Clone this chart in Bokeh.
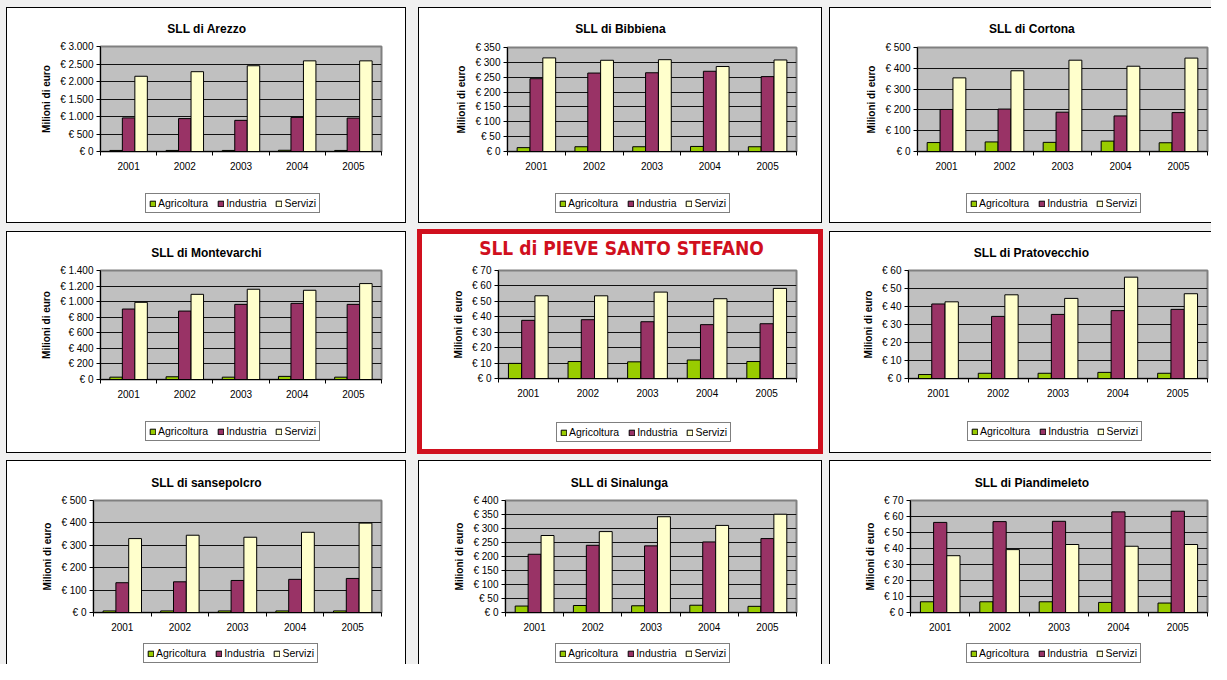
from bokeh.plotting import figure
from bokeh.models import (ColumnDataSource, Range1d, FixedTicker,
                          Legend, LegendItem, Label, Plot)
from bokeh.layouts import row, column
from bokeh.transform import dodge
from bokeh.embed import file_html
from bokeh.resources import INLINE

# ---------------- data ----------------
years = ["2001", "2002", "2003", "2004", "2005"]
sectors = ["Agricoltura", "Industria", "Servizi"]
sector_colors = ["#99cc00", "#993366", "#ffffcc"]
y_axis_title = "Milioni di euro"

titles = ["SLL di Arezzo", "SLL di Bibbiena", "SLL di Cortona",
          "SLL di Montevarchi", "SLL di PIEVE SANTO STEFANO", "SLL di Pratovecchio",
          "SLL di sansepolcro", "SLL di Sinalunga", "SLL di Piandimeleto"]

arezzo_agricoltura = [30, 30, 30, 35, 30]
arezzo_industria = [960, 940, 890, 975, 955]
arezzo_servizi = [2150, 2280, 2450, 2590, 2590]
arezzo_axis = (3000, 500)

bibbiena_agricoltura = [13, 16, 16, 17, 16]
bibbiena_industria = [245, 264, 265, 270, 252]
bibbiena_servizi = [315, 307, 309, 286, 308]
bibbiena_axis = (350, 50)

cortona_agricoltura = [43, 46, 44, 50, 42]
cortona_industria = [202, 204, 189, 171, 187]
cortona_servizi = [354, 388, 439, 410, 449]
cortona_axis = (500, 100)

montevarchi_agricoltura = [30, 35, 30, 40, 30]
montevarchi_industria = [905, 879, 965, 978, 965]
montevarchi_servizi = [991, 1094, 1159, 1146, 1232]
montevarchi_axis = (1400, 200)

pieve_agricoltura = [9.8, 11.0, 10.8, 12.0, 11.0]
pieve_industria = [37.7, 38.1, 36.8, 34.9, 35.5]
pieve_servizi = [53.6, 53.6, 56.0, 51.7, 58.4]
pieve_axis = (70, 10)

pratovecchio_agricoltura = [2.2, 2.9, 2.9, 3.4, 2.9]
pratovecchio_industria = [41.4, 34.5, 35.6, 37.7, 38.4]
pratovecchio_servizi = [42.6, 46.5, 44.5, 56.3, 47.1]
pratovecchio_axis = (60, 10)

sansepolcro_agricoltura = [7, 7, 7, 7, 7]
sansepolcro_industria = [133, 137, 143, 148, 152]
sansepolcro_servizi = [330, 345, 336, 358, 399]
sansepolcro_axis = (500, 100)

sinalunga_agricoltura = [23, 25, 24, 26, 22]
sinalunga_industria = [208, 240, 238, 252, 264]
sinalunga_servizi = [275, 289, 342, 311, 351]
sinalunga_axis = (400, 50)

piandimeleto_agricoltura = [6.7, 6.7, 6.7, 6.3, 5.9]
piandimeleto_industria = [56.3, 56.8, 57.0, 62.9, 63.3]
piandimeleto_servizi = [35.5, 39.3, 42.5, 41.4, 42.5]
piandimeleto_axis = (70, 10)

panel_data = [
    (arezzo_agricoltura, arezzo_industria, arezzo_servizi, arezzo_axis),
    (bibbiena_agricoltura, bibbiena_industria, bibbiena_servizi, bibbiena_axis),
    (cortona_agricoltura, cortona_industria, cortona_servizi, cortona_axis),
    (montevarchi_agricoltura, montevarchi_industria, montevarchi_servizi, montevarchi_axis),
    (pieve_agricoltura, pieve_industria, pieve_servizi, pieve_axis),
    (pratovecchio_agricoltura, pratovecchio_industria, pratovecchio_servizi, pratovecchio_axis),
    (sansepolcro_agricoltura, sansepolcro_industria, sansepolcro_servizi, sansepolcro_axis),
    (sinalunga_agricoltura, sinalunga_industria, sinalunga_servizi, sinalunga_axis),
    (piandimeleto_agricoltura, piandimeleto_industria, piandimeleto_servizi, piandimeleto_axis),
]

# ---------------- layout geometry (layout pixels) ----------------
# box = (x0, y0, w, h); frame = (left, right, top, bottom);
# tc = title centre (x, y); leg = legend (left, bottom)
GEOM = [
    dict(box=(6, 7, 400, 216), frame=(100, 381, 46, 151), tc=(206.5, 28), leg=(145, 213)),
    dict(box=(418, 7, 404, 216), frame=(507, 796, 47, 151), tc=(620, 28), leg=(555, 213)),
    dict(box=(829, 7, 382, 216), frame=(917, 1207, 47, 151), tc=(1031.5, 28), leg=(966, 213)),
    dict(box=(6, 231, 400, 222), frame=(100, 381, 270, 379), tc=(206, 252), leg=(145, 441)),
    dict(box=(417, 229, 406, 225), frame=(498, 796, 270, 378), tc=(621, 247), leg=(556, 442)),
    dict(box=(829, 231, 382, 222), frame=(908, 1207, 270, 378), tc=(1031, 252), leg=(967, 441)),
    dict(box=(6, 460, 400, 204), frame=(93, 381, 500, 612), tc=(206, 482), leg=(143, 663)),
    dict(box=(418, 460, 404, 204), frame=(505, 796, 500, 612), tc=(619, 482), leg=(555, 663)),
    dict(box=(829, 460, 382, 204), frame=(910, 1207, 500, 612), tc=(1031.5, 482), leg=(966, 663)),
]

FONT = "Liberation Sans"
NARROW = "DejaVu Sans Condensed, sans-serif"
RED = "#d0101e"
BAR_W = 1 / 4.5
TOP_PAD = 8      # space above plot frame inside the plot figure
BOT_PAD = 24     # space below plot frame inside the plot figure
HAS_FRAME_ALIGN = "frame_align" in Plot.properties()


def euro(v):
    return "€ " + f"{int(v):,}".replace(",", ".")


def no_align(f):
    if HAS_FRAME_ALIGN:
        f.frame_align = False
    return f


def bare_figure(w, h, xr=(0, 1)):
    f = figure(width=w, height=h, output_backend="svg", toolbar_location=None,
               x_axis_type=None, y_axis_type=None, min_border=0,
               min_border_left=0, min_border_right=0, min_border_top=0, min_border_bottom=0,
               x_range=Range1d(*xr), y_range=Range1d(0, 1),
               background_fill_color=None, border_fill_color=None,
               outline_line_color=None)
    f.xgrid.visible = False
    f.ygrid.visible = False
    return no_align(f)


def make_panel(idx, margin):
    agri, ind, serv, (ymax, step) = panel_data[idx]
    g = GEOM[idx]
    x0, y0, w, h = g["box"]
    fl, fr, ft, fb = g["frame"]
    highlight = idx == 4
    col3 = x0 > 800
    row3 = y0 > 455
    ox = x0 if HAS_FRAME_ALIGN else fl

    if highlight:
        shadow = f"inset 0 0 0 5px {RED}"
    else:
        parts = ["inset 1px 0 0 0 #000", "inset 0 1px 0 0 #000"]
        if not col3:
            parts.append("inset -1px 0 0 0 #000")
        if not row3:
            parts.append("inset 0 -1px 0 0 #000")
        shadow = ", ".join(parts)

    main_top = ft - TOP_PAD
    main_bot = fb + BOT_PAD

    # ---- title strip ----
    tfig = bare_figure(w, main_top - y0)
    tcx, tcy = g["tc"]
    if highlight:
        lab = Label(x=tcx - ox, y=main_top - tcy, x_units="screen", y_units="screen",
                    text=titles[idx], text_align="center", text_baseline="middle",
                    text_font=NARROW, text_font_style="bold", text_font_size="19px",
                    text_color=RED)
    else:
        lab = Label(x=tcx - ox, y=main_top - tcy, x_units="screen", y_units="screen",
                    text=titles[idx], text_align="center", text_baseline="middle",
                    text_font=FONT, text_font_style="bold", text_font_size="12px",
                    text_color="black")
    tfig.add_layout(lab)

    # ---- plot ----
    p = figure(width=w, height=main_bot - main_top, output_backend="svg",
               toolbar_location=None,
               x_range=Range1d(0, len(years)), y_range=Range1d(0, ymax),
               min_border_left=fl - x0, min_border_right=x0 + w - fr,
               min_border_top=ft - main_top, min_border_bottom=main_bot - fb,
               background_fill_color="#c0c0c0", border_fill_color=None,
               outline_line_color="#808080", outline_line_width=2)
    no_align(p)

    centers = [i + 0.5 for i in range(len(years))]
    src = ColumnDataSource(dict(x=centers, a=agri, i=ind, s=serv))
    for k, (field, col) in enumerate(zip(["a", "i", "s"], sector_colors)):
        p.vbar(x=dodge("x", (k - 1) * BAR_W), top=field, width=BAR_W, source=src,
               fill_color=col, line_color="black", line_width=1)

    yt = list(range(0, ymax + step, step))
    p.yaxis.ticker = FixedTicker(ticks=yt)
    p.yaxis.major_label_overrides = {t: euro(t) for t in yt}
    p.yaxis.major_tick_out = 4
    p.yaxis.major_tick_in = 0
    p.yaxis.minor_tick_out = 0
    p.yaxis.minor_tick_in = 0
    p.yaxis.major_label_standoff = 3
    p.yaxis.axis_label = y_axis_title
    p.yaxis.axis_label_text_font = FONT
    p.yaxis.axis_label_text_font_style = "bold"
    p.yaxis.axis_label_text_font_size = "10px"
    p.yaxis.axis_label_text_color = "black"
    p.yaxis.axis_label_standoff = 5

    p.xaxis.ticker = FixedTicker(ticks=centers, minor_ticks=list(range(len(years) + 1)))
    p.xaxis.major_label_overrides = {c: y for c, y in zip(centers, years)}
    p.xaxis.major_tick_out = 0
    p.xaxis.major_tick_in = 0
    p.xaxis.minor_tick_out = 4
    p.xaxis.minor_tick_in = 0
    p.xaxis.major_label_standoff = 6

    for ax in (p.xaxis, p.yaxis):
        ax.axis_line_color = "black"
        ax.major_tick_line_color = "black"
        ax.minor_tick_line_color = "black"
        ax.major_label_text_font = FONT
        ax.major_label_text_font_size = "10px"
        ax.major_label_text_color = "black"

    p.xgrid.visible = False
    p.ygrid.ticker = FixedTicker(ticks=yt[1:-1])
    p.ygrid.grid_line_color = "#111111"
    p.ygrid.grid_line_width = 1

    # ---- legend strip (swatch renderers share the data but lie outside its x range) ----
    lfig = bare_figure(w, y0 + h - main_bot, xr=(-3, -2))
    swatches = []
    for k, (field, col) in enumerate(zip(["a", "i", "s"], sector_colors)):
        swatches.append(lfig.vbar(x=dodge("x", (k - 1) * BAR_W), top=field, width=BAR_W,
                                  source=src, fill_color=col,
                                  line_color="black", line_width=1))
    lx, lb = g["leg"]
    leg = Legend(items=[LegendItem(label=s, renderers=[r]) for s, r in zip(sectors, swatches)],
                 orientation="horizontal", location=(lx - ox, y0 + h - lb),
                 border_line_color="black", border_line_width=1,
                 background_fill_color="white", background_fill_alpha=1,
                 padding=3, spacing=9, margin=0,
                 glyph_width=7, glyph_height=7, label_standoff=2,
                 label_height=11, label_text_font=FONT, label_text_font_size="10.5px",
                 label_text_color="black")
    lfig.add_layout(leg, "center")

    return column(tfig, p, lfig, spacing=0, margin=margin,
                  styles={"background-color": "white", "box-shadow": shadow})


rows_idx = [[0, 1, 2], [3, 4, 5], [6, 7, 8]]
rows = []
row_top = 0
for ids in rows_idx:
    prev_right = 0
    panels = []
    for i in ids:
        x0, y0, w, h = GEOM[i]["box"]
        panels.append(make_panel(i, (y0 - row_top, 0, 0, x0 - prev_right)))
        prev_right = x0 + w
    rows.append(row(*panels, spacing=0))
    row_top = max(GEOM[i]["box"][1] + GEOM[i]["box"][3] for i in ids)

page = column(*rows, spacing=0, styles={"background-color": "#f0f0f0"})

open("out.html", "w").write(file_html(page, INLINE))
